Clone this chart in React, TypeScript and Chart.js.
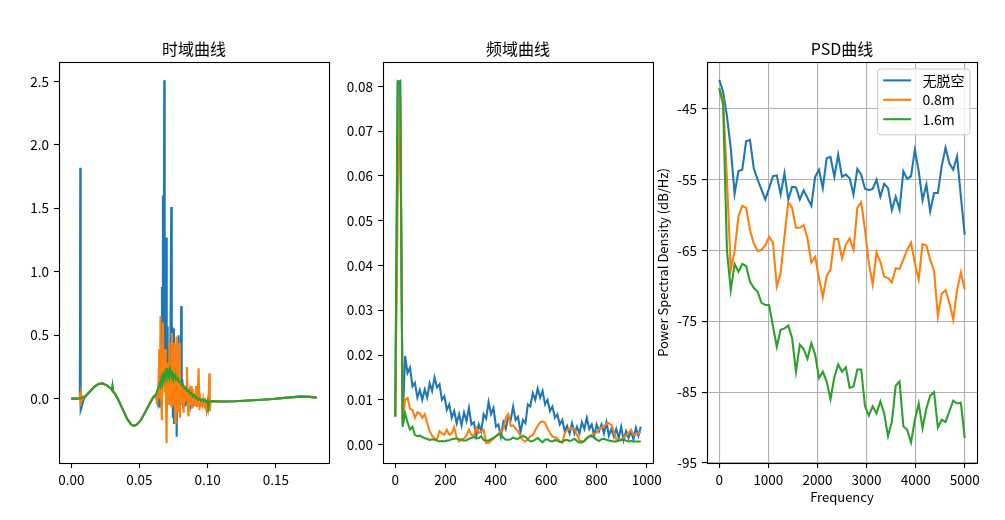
import React, { useEffect, useRef } from "react";
import { Chart, registerables } from "chart.js";

Chart.register(...registerables);

const FONT = "'Noto Sans CJK SC', 'Noto Sans', sans-serif";
const seriesLabels = ["无脱空", "0.8m", "1.6m"];
const seriesColors = ["#1f77b4", "#ff7f0e", "#2ca02c"];
const panelTitles = ["时域曲线", "频域曲线", "PSD曲线"];

// ---------- time domain: [time (s), amplitude] ----------
const timeBlue: number[][] = [
  [0, 0], [0.004, 0], [0.0063, 0.002], [0.0066, 1.82], [0.0069, -0.09], [0.0075, -0.07], [0.0085, -0.03], [0.0095, 0.005],
  [0.011, 0.025], [0.014, 0.06], [0.017, 0.095], [0.02, 0.115], [0.023, 0.12], [0.026, 0.105], [0.029, 0.08],
  [0.0298, 0.068], [0.0302, 0.098], [0.0306, 0.058], [0.032, 0.04], [0.035, -0.02], [0.038, -0.09], [0.041, -0.16],
  [0.044, -0.205], [0.046, -0.215], [0.048, -0.205], [0.051, -0.17], [0.054, -0.11], [0.057, -0.05],
  [0.06, 0.01], [0.062, 0.03], [0.0635, -0.04], [0.0645, 0.08], [0.065, -0.07], [0.0655, 0.15], [0.066, 0.02],
  [0.0665, 0.88], [0.0668, 0.1], [0.0672, 1.6], [0.0675, 0.3], [0.0679, 1.3], [0.0682, 2.51], [0.0685, 0.2],
  [0.069, 0.3], [0.0696, 1.27], [0.07, -0.1], [0.0703, 0.57], [0.0707, 0.1], [0.0712, 0.3], [0.0716, -0.05],
  [0.072, 0.4], [0.0725, 0.05], [0.0733, 1.51], [0.0737, 0.2], [0.0741, 0.56], [0.0745, -0.15], [0.0749, 0.55],
  [0.0753, -0.2], [0.0757, 0.3], [0.0762, 0.0], [0.0768, 0.15], [0.0773, -0.3], [0.0777, 0.2], [0.0782, 0.0],
  [0.0787, 0.5], [0.0792, 0.05], [0.0797, 0.2], [0.0802, -0.05], [0.0806, 0.73], [0.081, 0.0], [0.0815, 0.15],
  [0.082, -0.08], [0.0828, 0.1], [0.0835, -0.06], [0.0845, 0.05], [0.0855, -0.06], [0.0865, 0.04], [0.0875, -0.05],
  [0.0885, 0.02], [0.0895, -0.04], [0.0905, 0.0], [0.092, -0.03], [0.094, -0.05], [0.096, -0.02], [0.098, -0.06],
  [0.0995, -0.09], [0.1005, -0.01], [0.102, -0.02],
  [0.104, -0.02], [0.11, -0.022], [0.12, -0.02], [0.13, -0.015], [0.14, -0.008], [0.15, 0.0], [0.16, 0.01],
  [0.168, 0.016], [0.175, 0.014], [0.18, 0.008],
];

const timeOrange: number[][] = [
  [0, 0], [0.004, 0], [0.0062, 0.005], [0.0065, 0.05], [0.0068, -0.06], [0.0072, 0.03], [0.0078, -0.01], [0.0088, 0.006],
  [0.011, 0.025], [0.014, 0.06], [0.017, 0.095], [0.02, 0.115], [0.023, 0.12], [0.026, 0.105], [0.029, 0.08],
  [0.032, 0.04], [0.035, -0.02], [0.038, -0.09], [0.041, -0.16], [0.044, -0.205], [0.046, -0.215], [0.048, -0.205],
  [0.051, -0.17], [0.054, -0.11], [0.057, -0.05],
  [0.06, 0.01], [0.062, 0.03], [0.063, -0.05], [0.064, 0.15], [0.0645, 0.39], [0.065, 0.0], [0.0654, 0.65],
  [0.0658, 0.1], [0.0664, -0.17], [0.0668, 0.2], [0.0672, 0.6], [0.0676, 0.1], [0.068, 0.3], [0.0684, 0.05],
  [0.0689, 0.39], [0.0694, 0.0], [0.0699, -0.35], [0.0703, 0.28], [0.0708, -0.05], [0.0713, 0.2], [0.0716, -0.05],
  [0.072, 0.44], [0.0724, 0.0], [0.0728, 0.25], [0.0733, -0.06], [0.0738, 0.52], [0.0742, 0.0], [0.0746, 0.3],
  [0.075, -0.05], [0.0755, 0.44], [0.0762, -0.19], [0.0767, 0.2], [0.0772, 0.49], [0.0777, -0.1], [0.0782, 0.25],
  [0.0787, -0.05], [0.0792, 0.44], [0.0797, -0.15], [0.0802, 0.12], [0.0808, -0.03], [0.0815, 0.1], [0.0824, -0.11],
  [0.083, 0.08], [0.0836, -0.03], [0.0842, 0.1], [0.0848, 0.25], [0.0854, 0.0], [0.086, -0.14], [0.0866, 0.05],
  [0.0872, -0.05], [0.0878, 0.1], [0.0884, -0.08], [0.089, 0.08], [0.0896, -0.05], [0.0902, 0.04], [0.0908, -0.06],
  [0.0915, 0.1], [0.0922, -0.06], [0.0928, 0.05], [0.0934, 0.24], [0.094, -0.09], [0.0946, 0.0], [0.0952, -0.04],
  [0.096, -0.06], [0.0968, 0.0], [0.0976, -0.05], [0.0984, -0.02], [0.0992, -0.09], [0.1, -0.02], [0.1006, -0.06],
  [0.1012, 0.2], [0.1016, -0.1], [0.1022, -0.02], [0.103, -0.025],
  [0.104, -0.02], [0.11, -0.022], [0.12, -0.02], [0.13, -0.015], [0.14, -0.008], [0.15, 0.0], [0.16, 0.01],
  [0.168, 0.016], [0.175, 0.014], [0.18, 0.008],
];

const timeGreen: number[][] = [
  [0, 0], [0.004, 0], [0.008, 0.005],
  [0.011, 0.025], [0.014, 0.06], [0.017, 0.095], [0.02, 0.115], [0.023, 0.12], [0.026, 0.105], [0.029, 0.08],
  [0.0298, 0.068], [0.0302, 0.095], [0.0306, 0.058], [0.032, 0.04], [0.035, -0.02], [0.038, -0.09], [0.041, -0.16],
  [0.044, -0.205], [0.046, -0.215], [0.048, -0.205], [0.051, -0.17], [0.054, -0.11], [0.057, -0.05],
  [0.06, 0.01], [0.062, 0.03], [0.063, 0.06], [0.064, 0.09], [0.065, 0.12], [0.0655, 0.1], [0.066, 0.15],
  [0.0665, 0.13], [0.067, 0.17], [0.0675, 0.15], [0.068, 0.185], [0.0685, 0.165], [0.069, 0.2], [0.0695, 0.175],
  [0.07, 0.24], [0.0705, 0.18], [0.071, 0.21], [0.0715, 0.185], [0.072, 0.215], [0.0725, 0.19], [0.073, 0.205],
  [0.0735, 0.18], [0.074, 0.2], [0.0745, 0.175], [0.075, 0.19], [0.076, 0.165], [0.0765, 0.18], [0.077, 0.15],
  [0.078, 0.16], [0.079, 0.13], [0.08, 0.135], [0.081, 0.105], [0.082, 0.11], [0.083, 0.08], [0.084, 0.085],
  [0.085, 0.06], [0.086, 0.065], [0.087, 0.04], [0.088, 0.045], [0.089, 0.02], [0.09, 0.03], [0.091, 0.005],
  [0.092, 0.01], [0.093, -0.01], [0.094, 0.0], [0.095, -0.015], [0.096, -0.005], [0.097, -0.02], [0.098, -0.01],
  [0.099, -0.025], [0.1, -0.015], [0.1005, -0.07], [0.101, -0.03], [0.102, -0.02],
  [0.104, -0.02], [0.11, -0.022], [0.12, -0.02], [0.13, -0.015], [0.14, -0.008], [0.15, 0.0], [0.16, 0.01],
  [0.168, 0.016], [0.175, 0.014], [0.18, 0.008],
];

// ---------- frequency domain: amplitude per bin ----------
const specStep = 9.766; // Hz per FFT bin
const specBlue = [
  0.0063, 0.0808, 0.0812, 0.0048, 0.0198, 0.016, 0.0172, 0.013, 0.0138, 0.0105,
  0.0122, 0.01, 0.0123, 0.0105, 0.0137, 0.012, 0.015, 0.0128, 0.0135, 0.01,
  0.0108, 0.0078, 0.009, 0.006, 0.0075, 0.0048, 0.0068, 0.0043, 0.0072, 0.0053,
  0.0082, 0.0045, 0.005, 0.002, 0.0045, 0.003, 0.0068, 0.0058, 0.0095, 0.0068,
  0.0082, 0.004, 0.0045, 0.0018, 0.005, 0.0035, 0.0062, 0.0055, 0.0085, 0.0055,
  0.0062, 0.0028, 0.0055, 0.0048, 0.009, 0.0085, 0.0115, 0.01, 0.0125, 0.0105,
  0.012, 0.009, 0.01, 0.0075, 0.0085, 0.006, 0.0068, 0.0045, 0.0055, 0.003,
  0.0042, 0.0025, 0.0048, 0.0025, 0.004, 0.0025, 0.005, 0.0035, 0.006, 0.0035,
  0.0045, 0.002, 0.0045, 0.003, 0.0045, 0.0025, 0.005, 0.002, 0.0035, 0.0018,
  0.0035, 0.0015, 0.004, 0.001, 0.003, 0.0015, 0.003, 0.0012, 0.0038, 0.002,
  0.004,
];
const specOrange = [
  0.0065, 0.055, 0.078, 0.005, 0.01, 0.0104, 0.008, 0.0078, 0.006, 0.0072,
  0.007, 0.006, 0.0068, 0.0048, 0.003, 0.002, 0.0014, 0.0011, 0.003, 0.0025,
  0.0022, 0.0033, 0.0022, 0.0025, 0.0039, 0.0015, 0.0007, 0.0011, 0.0014, 0.002,
  0.0033, 0.0022, 0.0018, 0.0037, 0.0026, 0.003, 0.0033, 0.0004, 0.0004, 0.0008,
  0.0013, 0.0019, 0.0024, 0.003, 0.0034, 0.006, 0.0068, 0.0042, 0.0043, 0.0036,
  0.003, 0.0017, 0.001, 0.0007, 0.0011, 0.0019, 0.0021, 0.0032, 0.0042, 0.005,
  0.0052, 0.0049, 0.0036, 0.0026, 0.0018, 0.0016, 0.0014, 0.0008, 0.0004, 0.0025,
  0.0033, 0.0035, 0.0037, 0.0035, 0.0022, 0.001, 0.0007, 0.0009, 0.0015, 0.0019,
  0.0022, 0.0024, 0.0027, 0.0034, 0.0039, 0.0042, 0.0046, 0.0048, 0.0044, 0.003,
  0.0011, 0.001, 0.0012, 0.0016, 0.002, 0.0027, 0.0033, 0.0022, 0.0022, 0.0025,
  0.0028,
];
const specGreen = [
  0.0062, 0.0812, 0.081, 0.004, 0.007, 0.005, 0.0034, 0.004, 0.0022, 0.0019,
  0.002, 0.0017, 0.0014, 0.0013, 0.001, 0.0012, 0.0011, 0.0009, 0.0007, 0.0008,
  0.0007, 0.0009, 0.001, 0.0012, 0.0013, 0.0014, 0.0012, 0.0011, 0.0009, 0.001,
  0.0013, 0.0015, 0.0017, 0.0014, 0.0015, 0.0019, 0.001, 0.0009, 0.0009, 0.0012,
  0.0015, 0.0019, 0.0022, 0.0024, 0.0015, 0.0011, 0.0011, 0.0012, 0.0016, 0.0013,
  0.0013, 0.0016, 0.002, 0.0017, 0.0012, 0.0007, 0.0008, 0.0011, 0.0015, 0.001,
  0.0005, 0.0011, 0.0012, 0.0008, 0.0007, 0.001, 0.0009, 0.0006, 0.0006, 0.001,
  0.0011, 0.0008, 0.001, 0.0013, 0.0008, 0.0005, 0.0005, 0.0008, 0.0014, 0.0018,
  0.0019, 0.0016, 0.0011, 0.0008, 0.0012, 0.0013, 0.0011, 0.0009, 0.0008, 0.0007,
  0.0007, 0.0009, 0.001, 0.0012, 0.0009, 0.0007, 0.0008, 0.0007, 0.0007, 0.0007,
  0.0007,
];

// ---------- PSD (dB/Hz) per bin ----------
const psdStep = 78.125; // Hz per PSD bin
const psdBlue = [
  -40.9, -42.6, -46.0, -50.6, -57.0, -53.8, -53.6, -49.6, -49.4, -53.4,
  -55.0, -56.4, -57.8, -56.2, -54.5, -54.4, -57.1, -54.1, -57.8, -56.0,
  -56.1, -57.8, -56.5, -57.6, -58.7, -54.6, -53.6, -56.2, -52.0, -51.8,
  -54.6, -51.5, -54.6, -54.3, -54.8, -57.1, -53.5, -54.3, -56.3, -56.5,
  -56.3, -55.0, -57.4, -55.6, -56.2, -59.3, -57.4, -59.2, -53.8, -54.9,
  -54.5, -50.8, -53.8, -57.9, -55.7, -59.5, -56.9, -56.9, -53.1, -50.5,
  -52.7, -53.6, -51.7, -57.4, -62.8,
];
const psdOrange = [
  -42.1, -43.7, -55.0, -67.7, -65.1, -60.2, -58.7, -59.0, -62.1, -64.0,
  -65.1, -64.9, -64.3, -63.1, -63.9, -70.1, -68.2, -63.0, -58.2, -59.0,
  -61.8, -61.8, -61.4, -63.3, -66.7, -65.9, -68.9, -71.6, -68.6, -67.7,
  -63.4, -63.4, -66.1, -64.2, -63.3, -64.9, -59.0, -58.2, -62.1, -66.8,
  -69.8, -65.3, -66.6, -68.7, -68.9, -69.5, -67.5, -67.6, -66.3, -64.9,
  -63.9, -66.8, -69.1, -64.1, -64.3, -66.3, -67.9, -74.3, -71.1, -70.6,
  -72.4, -74.8, -70.6, -68.1, -70.5,
];
const psdGreen = [
  -42.1, -44.4, -65.0, -70.6, -66.9, -68.0, -66.9, -67.2, -69.4, -70.3,
  -70.8, -72.4, -72.7, -72.7, -75.7, -78.6, -76.2, -76.0, -75.6, -77.4,
  -82.1, -78.3, -78.9, -80.3, -78.1, -79.7, -83.0, -82.1, -83.5, -86.0,
  -82.9, -81.1, -82.1, -81.5, -84.4, -84.2, -81.8, -81.8, -87.0, -88.3,
  -87.0, -88.0, -86.3, -88.0, -91.2, -89.2, -84.1, -83.5, -89.8, -90.3,
  -92.1, -88.9, -86.6, -90.1, -87.3, -85.5, -85.0, -90.0, -88.9, -89.2,
  -87.7, -86.2, -86.6, -86.5, -91.5,
];

// ---------- tick labels ----------
const timeXTicks = [0, 0.05, 0.1, 0.15];
const timeYTicks = [0, 0.5, 1, 1.5, 2, 2.5];
const specXTicks = [0, 200, 400, 600, 800, 1000];
const specYTicks = [0, 0.01, 0.02, 0.03, 0.04, 0.05, 0.06, 0.07, 0.08];
const psdXTicks = [0, 1000, 2000, 3000, 4000, 5000];
const psdYTicks = [-95, -85, -75, -65, -55, -45];

const LINE_W = 2.08;

const framePlugin = {
  id: "frame",
  afterDraw(chart: any, _args: any, opts: any) {
    const { ctx, chartArea: a } = chart;
    ctx.save();
    ctx.strokeStyle = "#000";
    ctx.lineWidth = 1.1;
    ctx.strokeRect(Math.round(a.left) + 0.5, Math.round(a.top) + 0.5, Math.round(a.right - a.left), Math.round(a.bottom - a.top));
    if (opts && opts.legend) {
      const ds = chart.data.datasets;
      ctx.font = `14px ${FONT}`;
      let maxW = 0;
      ds.forEach((d: any) => { maxW = Math.max(maxW, ctx.measureText(d.label).width); });
      const pad = 5.6, handle = 28, gap = 11.2, row = 19.4;
      const w = pad + handle + gap + maxW + pad;
      const h = pad + row * ds.length + 2;
      const x0 = a.right - 7 - w;
      const y0 = a.top + 7;
      ctx.fillStyle = "rgba(255,255,255,0.8)";
      ctx.strokeStyle = "#cccccc";
      ctx.lineWidth = 1;
      ctx.beginPath();
      const r = 3;
      ctx.moveTo(x0 + r, y0);
      ctx.arcTo(x0 + w, y0, x0 + w, y0 + h, r);
      ctx.arcTo(x0 + w, y0 + h, x0, y0 + h, r);
      ctx.arcTo(x0, y0 + h, x0, y0, r);
      ctx.arcTo(x0, y0, x0 + w, y0, r);
      ctx.closePath();
      ctx.fill();
      ctx.stroke();
      ds.forEach((d: any, i: number) => {
        const y = y0 + 11.4 + i * row;
        ctx.strokeStyle = d.borderColor;
        ctx.lineWidth = LINE_W;
        ctx.beginPath();
        ctx.moveTo(x0 + pad, y);
        ctx.lineTo(x0 + pad + handle, y);
        ctx.stroke();
        ctx.fillStyle = "#000";
        ctx.textBaseline = "middle";
        ctx.textAlign = "left";
        ctx.fillText(d.label, x0 + pad + handle + gap, y);
      });
    }
    ctx.restore();
  },
};

function makeDatasets(series: { x: number; y: number }[][]) {
  return series.map((data, i) => ({
    label: seriesLabels[i],
    data,
    borderColor: seriesColors[i],
    backgroundColor: seriesColors[i],
    borderWidth: LINE_W,
    pointRadius: 0,
    fill: false,
    tension: 0,
    order: 3 - i,
  }));
}

function makeConfig(p: any) {
  const tickFont = { family: FONT, size: 13.5 };
  const gridOpts = p.grid
    ? { display: true, drawOnChartArea: true, color: "#b0b0b0", lineWidth: 1.1, drawTicks: true, tickLength: 5, tickColor: "#000", tickWidth: 1.1 }
    : { display: true, drawOnChartArea: false, drawTicks: true, tickLength: 5, tickColor: "#000", tickWidth: 1.1 };
  return {
    type: "line",
    data: { datasets: p.datasets },
    options: {
      responsive: false,
      animation: false,
      events: [],
      layout: { padding: { left: 0, right: p.padRight, top: 0, bottom: 0 } },
      plugins: {
        legend: { display: false },
        tooltip: { enabled: false },
        title: {
          display: true,
          text: p.title,
          fullSize: false,
          color: "#000",
          font: { family: FONT, size: 16, weight: "normal" },
          padding: { top: 39.4, bottom: 3.4 },
        },
        frame: { legend: !!p.legend },
      },
      scales: {
        x: {
          type: "linear",
          min: p.xMin,
          max: p.xMax,
          grid: gridOpts,
          border: { display: false },
          afterBuildTicks: (s: any) => { s.ticks = p.xTicks.map((v: number) => ({ value: v })); },
          afterFit: (s: any) => { s.height = 57; },
          ticks: { color: "#000", font: tickFont, padding: 4, autoSkip: false, maxRotation: 0, minRotation: 0, callback: (v: any) => p.xFmt(Number(v)) },
          title: p.xTitle
            ? { display: true, text: p.xTitle, color: "#000", font: { family: FONT, size: 13 }, padding: { top: 0, bottom: 15.5 } }
            : { display: false },
        },
        y: {
          type: "linear",
          min: p.yMin,
          max: p.yMax,
          grid: gridOpts,
          border: { display: false },
          afterBuildTicks: (s: any) => { s.ticks = p.yTicks.map((v: number) => ({ value: v })); },
          afterFit: (s: any) => { s.width = p.yAxisW; },
          ticks: { color: "#000", font: tickFont, padding: 5, autoSkip: false, callback: (v: any) => p.yFmt(Number(v)) },
          title: p.yTitle
            ? { display: true, text: p.yTitle, color: "#000", font: { family: FONT, size: 13 }, padding: { top: 8.2, bottom: 0 } }
            : { display: false },
        },
      },
    },
    plugins: [framePlugin],
  };
}

function ChartCanvas({ left, width, build }: { left: number; width: number; build: () => any }) {
  const ref = useRef<HTMLCanvasElement>(null);
  useEffect(() => {
    const chart = new Chart(ref.current as HTMLCanvasElement, build());
    return () => chart.destroy();
  }, []);
  return (
    <canvas
      ref={ref}
      width={width}
      height={520}
      style={{ position: "absolute", left, top: 0, width, height: 520 }}
    />
  );
}

const toPts = (pairs: number[][]) => pairs.map(([x, y]) => ({ x, y }));
const binPts = (vals: number[], step: number) => vals.map((y, i) => ({ x: i * step, y }));

export default function App() {
  const buildTime = () =>
    makeConfig({
      title: panelTitles[0],
      datasets: makeDatasets([toPts(timeBlue), toPts(timeOrange), toPts(timeGreen)]),
      xMin: -0.009, xMax: 0.189, yMin: -0.507, yMax: 2.653,
      xTicks: timeXTicks, yTicks: timeYTicks,
      xFmt: (v: number) => v.toFixed(2), yFmt: (v: number) => v.toFixed(1),
      yAxisW: 59, padRight: 15,
    });
  const buildSpec = () =>
    makeConfig({
      title: panelTitles[1],
      datasets: makeDatasets([binPts(specBlue, specStep), binPts(specOrange, specStep), binPts(specGreen, specStep)]),
      xMin: -48.8, xMax: 1025, yMin: -0.0041, yMax: 0.08545,
      xTicks: specXTicks, yTicks: specYTicks,
      xFmt: (v: number) => String(Math.round(v)), yFmt: (v: number) => v.toFixed(2),
      yAxisW: 50, padRight: 20,
    });
  const buildPsd = () =>
    makeConfig({
      title: panelTitles[2],
      datasets: makeDatasets([binPts(psdBlue, psdStep), binPts(psdOrange, psdStep), binPts(psdGreen, psdStep)]),
      xMin: -250, xMax: 5250, yMin: -95, yMax: -38.4,
      xTicks: psdXTicks, yTicks: psdYTicks,
      xFmt: (v: number) => String(Math.round(v)), yFmt: (v: number) => String(Math.round(v)),
      yAxisW: 60, padRight: 28, grid: true, legend: true,
      xTitle: "Frequency", yTitle: "Power Spectral Density (dB/Hz)",
    });
  return (
    <div style={{ position: "absolute", left: 0, top: 0, width: 1005, height: 520, overflow: "hidden", background: "#fff" }}>
      <ChartCanvas left={0} width={344} build={buildTime} />
      <ChartCanvas left={333} width={340} build={buildSpec} />
      <ChartCanvas left={647} width={358} build={buildPsd} />
    </div>
  );
}
